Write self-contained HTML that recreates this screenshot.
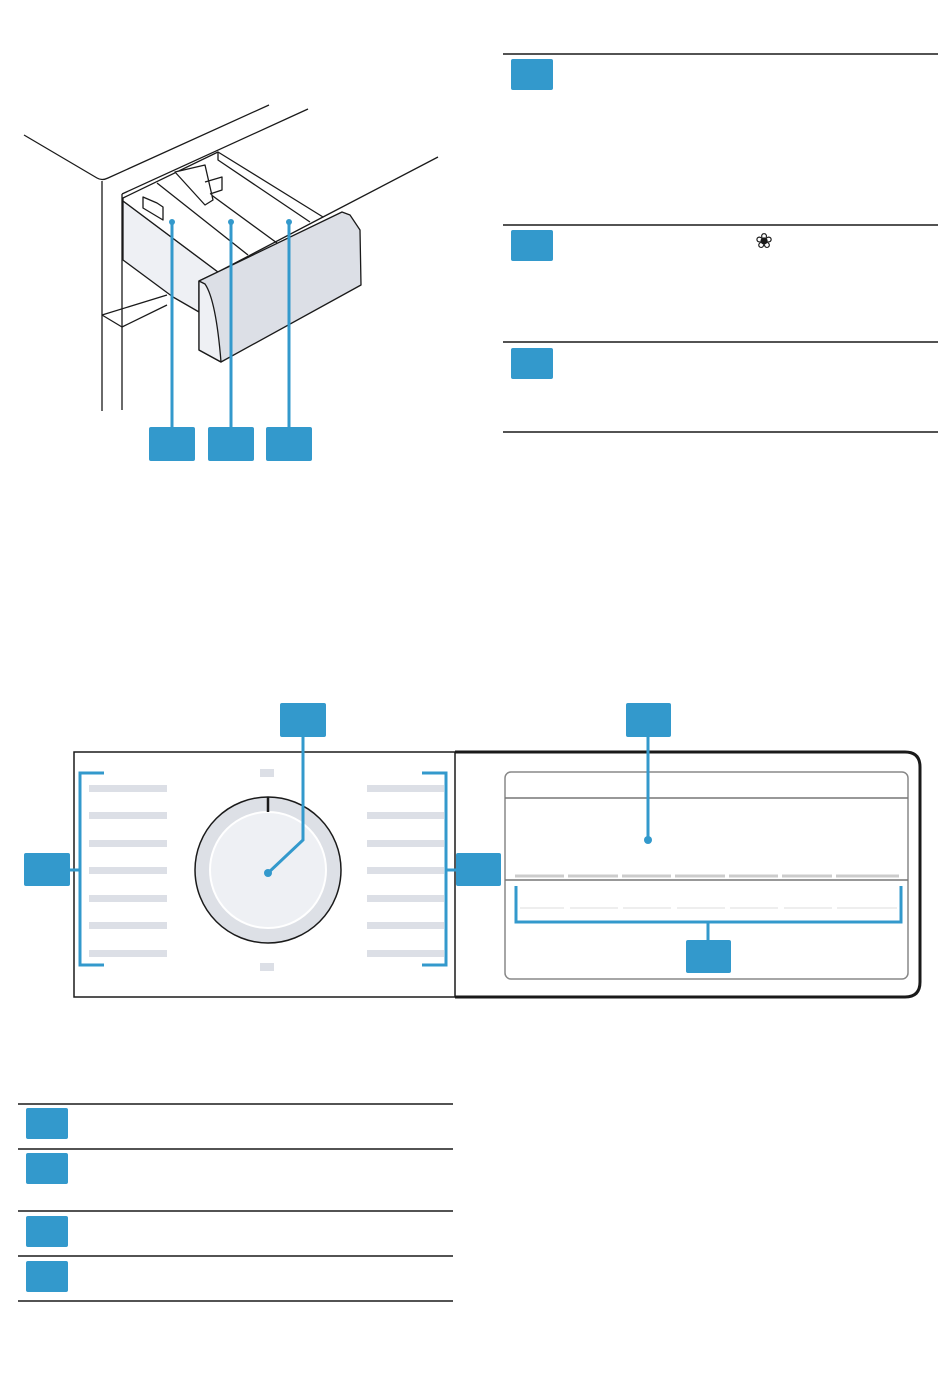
<!DOCTYPE html>
<html><head><meta charset="utf-8"><style>body{margin:0;background:#fff}svg{display:block}</style></head><body>
<svg width="950" height="1392" viewBox="0 0 950 1392" xmlns="http://www.w3.org/2000/svg" font-family="DejaVu Sans, Liberation Sans, sans-serif">
<g fill="none" stroke="#1a1a1a" stroke-width="1.3" stroke-linejoin="round">
<path d="M24 135 L97 178 Q102 181 108 178 L269 105"/>
<path d="M308 109 L122 194"/>
<path d="M102 181 V411"/><path d="M122 194 V410"/>
<path d="M438 157 L323 217"/>
<path d="M102 315 L167 295"/><path d="M102 315 L122 327 L167 305"/>
<path d="M123 198 L123 260 L173 297 L199 312 L199 281 L218 272 L123 201 Z" fill="#eef0f4"/>
<path d="M123 198 L218 152 L323 217 L218 272 L123 201 Z" fill="#fff"/>
<path d="M157 183 L248 255"/><path d="M180 172 L277 243"/><path d="M218 152 L218 160 L310 222"/>
<path d="M143 197 L143 208 L163 220 L163 207 L157 203 Z" fill="#fff"/>
<path d="M175 172 L205 165 L213 200 L205 205 Z" fill="#fff"/>
<path d="M205 182 L222 177 L222 190 L210 194"/>
<path d="M199 281 L342 212 L350 215 L360 230 L361 285 L221 362 L199 350 Z" fill="#dcdfe6"/>
<path d="M199 281 L199 350 L221 362 Q216 300 205 284 Z" fill="#eef0f4"/>
</g>
<g stroke="#3399cc" stroke-width="3" fill="#3399cc">
<line x1="172" y1="222" x2="172" y2="430"/><line x1="231" y1="222" x2="231" y2="430"/><line x1="289" y1="222" x2="289" y2="430"/>
<circle cx="172" cy="222" r="3" stroke="none"/><circle cx="231" cy="222" r="3" stroke="none"/><circle cx="289" cy="222" r="3" stroke="none"/>
</g>
<g fill="#3399cc">
<rect x="149" y="427" width="46" height="34" rx="2"/><rect x="208" y="427" width="46" height="34" rx="2"/><rect x="266" y="427" width="46" height="34" rx="2"/>
<rect x="511" y="59" width="42" height="31" rx="2"/><rect x="511" y="230" width="42" height="31" rx="2"/><rect x="511" y="348" width="42" height="31" rx="2"/>
</g>
<g stroke="#1a1a1a" stroke-width="1.5">
<line x1="503" y1="54" x2="938" y2="54"/><line x1="503" y1="225" x2="938" y2="225"/><line x1="503" y1="342" x2="938" y2="342"/><line x1="503" y1="432" x2="938" y2="432"/>
</g>
<text x="764" y="248" font-size="21" text-anchor="middle" fill="#1a1a1a">❀</text>

<path d="M455 752 H905 Q920 752 920 767 V982 Q920 997 905 997 H455" fill="none" stroke="#1a1a1a" stroke-width="3"/>
<rect x="74" y="752" width="381" height="245" fill="none" stroke="#1a1a1a" stroke-width="1.5"/>
<rect x="505" y="772" width="403" height="207" rx="6" fill="none" stroke="#888" stroke-width="1.5"/>
<line x1="505" y1="798" x2="908" y2="798" stroke="#777" stroke-width="1.5"/>
<line x1="505" y1="880" x2="908" y2="880" stroke="#777" stroke-width="1.5"/>
<g stroke="#ccc" stroke-width="3">
<line x1="515" y1="876" x2="564" y2="876"/><line x1="568" y1="876" x2="618" y2="876"/><line x1="622" y1="876" x2="671" y2="876"/><line x1="675" y1="876" x2="725" y2="876"/><line x1="729" y1="876" x2="778" y2="876"/><line x1="782" y1="876" x2="832" y2="876"/><line x1="836" y1="876" x2="899" y2="876"/>
</g>
<g stroke="#ddd" stroke-width="1">
<line x1="520" y1="908" x2="564" y2="908"/><line x1="570" y1="908" x2="618" y2="908"/><line x1="623" y1="908" x2="671" y2="908"/><line x1="677" y1="908" x2="725" y2="908"/><line x1="730" y1="908" x2="778" y2="908"/><line x1="784" y1="908" x2="832" y2="908"/><line x1="837" y1="908" x2="897" y2="908"/>
</g>
<g fill="#dcdfe6">
<rect x="89" y="785" width="78" height="7"/><rect x="89" y="812" width="78" height="7"/><rect x="89" y="840" width="78" height="7"/><rect x="89" y="867" width="78" height="7"/><rect x="89" y="895" width="78" height="7"/><rect x="89" y="922" width="78" height="7"/><rect x="89" y="950" width="78" height="7"/>
<rect x="367" y="785" width="77" height="7"/><rect x="367" y="812" width="77" height="7"/><rect x="367" y="840" width="77" height="7"/><rect x="367" y="867" width="77" height="7"/><rect x="367" y="895" width="77" height="7"/><rect x="367" y="922" width="77" height="7"/><rect x="367" y="950" width="77" height="7"/>
<rect x="260" y="769" width="14" height="8"/><rect x="260" y="963" width="14" height="8"/>
</g>
<circle cx="268" cy="870" r="73" fill="#dde0e6" stroke="#1a1a1a" stroke-width="1.5"/>
<circle cx="268" cy="870" r="58" fill="#eef0f4" stroke="#fff" stroke-width="2"/>
<line x1="268" y1="797" x2="268" y2="812" stroke="#1a1a1a" stroke-width="2.5"/>
<g stroke="#3399cc" stroke-width="3" fill="none">
<path d="M303 735 V840 L268 873"/>
<path d="M648 735 V840"/>
<path d="M70 870 H80 M104 773 H80 V965 H104"/>
<path d="M501 870 H446 M422 773 H446 V965 H422"/>
<path d="M516 886 V922 H901 V886 M708 922 V942"/>
</g>
<circle cx="268" cy="873" r="4" fill="#3399cc"/><circle cx="648" cy="840" r="4" fill="#3399cc"/>
<g fill="#3399cc">
<rect x="280" y="703" width="46" height="34" rx="2"/><rect x="626" y="703" width="45" height="34" rx="2"/>
<rect x="24" y="853" width="46" height="33" rx="2"/><rect x="456" y="853" width="45" height="33" rx="2"/>
<rect x="686" y="940" width="45" height="33" rx="2"/>
<rect x="26" y="1108" width="42" height="31" rx="2"/><rect x="26" y="1153" width="42" height="31" rx="2"/><rect x="26" y="1216" width="42" height="31" rx="2"/><rect x="26" y="1261" width="42" height="31" rx="2"/>
</g>
<g stroke="#1a1a1a" stroke-width="1.5">
<line x1="18" y1="1104" x2="453" y2="1104"/><line x1="18" y1="1149" x2="453" y2="1149"/><line x1="18" y1="1211" x2="453" y2="1211"/><line x1="18" y1="1256" x2="453" y2="1256"/><line x1="18" y1="1301" x2="453" y2="1301"/>
</g>
</svg>
</body></html>
